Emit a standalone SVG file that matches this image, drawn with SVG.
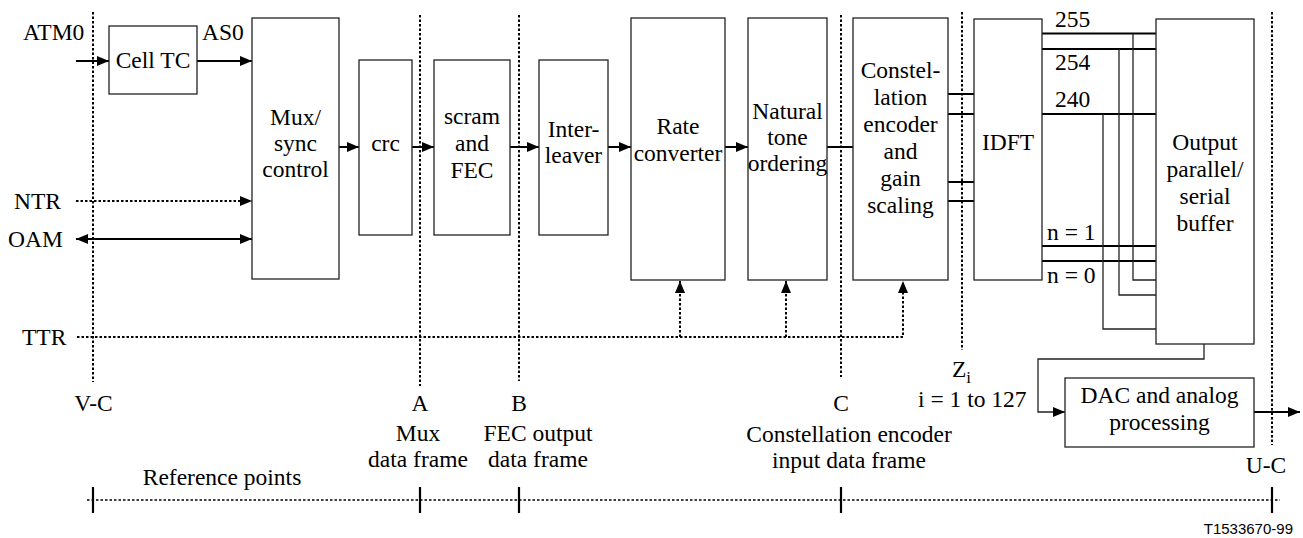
<svg xmlns="http://www.w3.org/2000/svg" width="1303" height="538" viewBox="0 0 1303 538" font-family="'Liberation Serif', 'Times New Roman', 'DejaVu Serif', serif">
<style>
text{font-family:'Liberation Serif','Times New Roman','DejaVu Serif',serif;font-size:23.5px;fill:#000}
.c{text-anchor:middle}
.box{fill:#fff;stroke:#222;stroke-width:1.3}
.w{fill:none;stroke:#000;stroke-width:2}
.t{fill:none;stroke:#222;stroke-width:1.3}
.d{fill:none;stroke:#000;stroke-width:2;stroke-dasharray:2.5 2}
.r{fill:none;stroke:#000;stroke-width:1.6;stroke-dasharray:2.5 2}
.tick{stroke:#000;stroke-width:2.2}
text.id{font-family:'Liberation Sans',Arial,sans-serif;font-size:15px;text-anchor:end}
</style>
<defs>
<marker id="ah" viewBox="0 0 12 10" refX="12" refY="5" markerWidth="12" markerHeight="10" markerUnits="userSpaceOnUse" orient="auto-start-reverse"><path d="M0,0 L12,5 L0,10 z" fill="#000"/></marker>
</defs>

<g id="reference-lines">
<path class="d" d="M93,12 V382"/>
<path class="d" d="M420,15 V386"/>
<path class="d" d="M519,15 V381"/>
<path class="d" d="M841,15 V377"/>
<path class="d" d="M962,12 V350"/>
<path class="d" d="M1272,12 V445"/>
<path class="r" d="M87,500 H1280"/>
<path class="tick" d="M93,487 V513 M420,487 V513 M519,487 V513 M841,487 V513 M1272,487 V513"/>
</g>

<g id="connectors">
<path class="w" d="M76,61 H109" marker-end="url(#ah)"/>
<path class="w" d="M197,61 H252" marker-end="url(#ah)"/>
<path class="d" d="M76,201 H252" marker-end="url(#ah)"/>
<path class="w" d="M76,239 H252" marker-start="url(#ah)" marker-end="url(#ah)"/>
<path class="w" d="M339,147 H359" marker-end="url(#ah)"/>
<path class="w" d="M412,147 H434" marker-end="url(#ah)"/>
<path class="w" d="M510,147 H539" marker-end="url(#ah)"/>
<path class="w" d="M608,147 H631" marker-end="url(#ah)"/>
<path class="w" d="M725,147 H748" marker-end="url(#ah)"/>
<path class="w" d="M827,147 H853"/>
<path class="w" d="M948,94 H974 M948,114 H974 M948,182 H974 M948,201 H974"/>
<path class="w" d="M1042,33.5 H1156 M1042,49 H1156 M1042,114 H1156 M1042,246 H1156 M1042,261 H1156"/>
<path class="t" d="M1133,33.5 V280 H1156 M1119,49 V295 H1156 M1103,114 V329 H1156"/>
<path class="d" d="M77,337 H903 V281" marker-end="url(#ah)"/>
<path class="d" d="M680,337 V281" marker-end="url(#ah)"/>
<path class="d" d="M786,337 V281" marker-end="url(#ah)"/>
<path class="t" d="M1204,344 V359 H1038 V412 H1065" marker-end="url(#ah)"/>
<path class="w" d="M1254,412 H1300" marker-end="url(#ah)"/>
</g>

<g id="cell-tc"><rect class="box" x="109" y="26" width="88" height="68"/><text class="c" x="153" y="68">Cell TC</text></g>
<g id="mux-sync"><rect class="box" x="252" y="18" width="87" height="261"/><text class="c" x="295.5" y="125">Mux/</text><text class="c" x="295.5" y="151">sync</text><text class="c" x="295.5" y="177">control</text></g>
<g id="crc"><rect class="box" x="359" y="60" width="53" height="175"/><text class="c" x="385.5" y="151">crc</text></g>
<g id="scram-fec"><rect class="box" x="434" y="60" width="76" height="175"/><text class="c" x="472" y="124">scram</text><text class="c" x="472" y="151">and</text><text class="c" x="472" y="178">FEC</text></g>
<g id="interleaver"><rect class="box" x="539" y="60" width="69" height="175"/><text class="c" x="573.5" y="137">Inter-</text><text class="c" x="573.5" y="163">leaver</text></g>
<g id="rate-converter"><rect class="box" x="631" y="18" width="94" height="262"/><text class="c" x="678" y="134">Rate</text><text class="c" x="678" y="161">converter</text></g>
<g id="natural-tone"><rect class="box" x="748" y="18" width="79" height="262"/><text class="c" x="787.5" y="119">Natural</text><text class="c" x="787.5" y="145">tone</text><text class="c" x="787.5" y="171">ordering</text></g>
<g id="constellation"><rect class="box" x="853" y="18" width="95" height="262"/><text class="c" x="900.5" y="78">Constel-</text><text class="c" x="900.5" y="105">lation</text><text class="c" x="900.5" y="132">encoder</text><text class="c" x="900.5" y="159">and</text><text class="c" x="900.5" y="186">gain</text><text class="c" x="900.5" y="213">scaling</text></g>
<g id="idft"><rect class="box" x="974" y="19" width="68" height="261"/><text class="c" x="1008" y="150">IDFT</text></g>
<g id="output-buffer"><rect class="box" x="1156" y="19" width="98" height="325"/><text class="c" x="1205" y="150">Output</text><text class="c" x="1205" y="177">parallel/</text><text class="c" x="1205" y="204">serial</text><text class="c" x="1205" y="231">buffer</text></g>
<g id="dac"><rect class="box" x="1065" y="378" width="189" height="69"/><text class="c" x="1159.5" y="403">DAC and analog</text><text class="c" x="1159.5" y="430">processing</text></g>

<g id="labels">
<text x="23" y="40">ATM0</text>
<text x="202" y="40">AS0</text>
<text x="14" y="209">NTR</text>
<text x="8" y="247">OAM</text>
<text x="22" y="345">TTR</text>
<text x="1055" y="27">255</text>
<text x="1055" y="70">254</text>
<text x="1055" y="107">240</text>
<text x="1047" y="240">n = 1</text>
<text x="1047" y="283">n = 0</text>
<text class="c" x="93.5" y="411">V-C</text>
<text class="c" x="420" y="411">A</text>
<text class="c" x="519" y="411">B</text>
<text class="c" x="841" y="411">C</text>
<text class="c" x="418" y="441">Mux</text>
<text class="c" x="418" y="467">data frame</text>
<text class="c" x="538" y="441">FEC output</text>
<text class="c" x="538" y="467">data frame</text>
<text class="c" x="849" y="442">Constellation encoder</text>
<text class="c" x="849" y="468">input data frame</text>
<text x="952" y="377">Z<tspan font-size="17" dy="6">i</tspan></text>
<text x="918" y="407">i = 1 to 127</text>
<text class="c" x="1266" y="473">U-C</text>
<text class="c" x="222" y="485">Reference points</text>
<text class="id" x="1293" y="534">T1533670-99</text>
</g>
</svg>
